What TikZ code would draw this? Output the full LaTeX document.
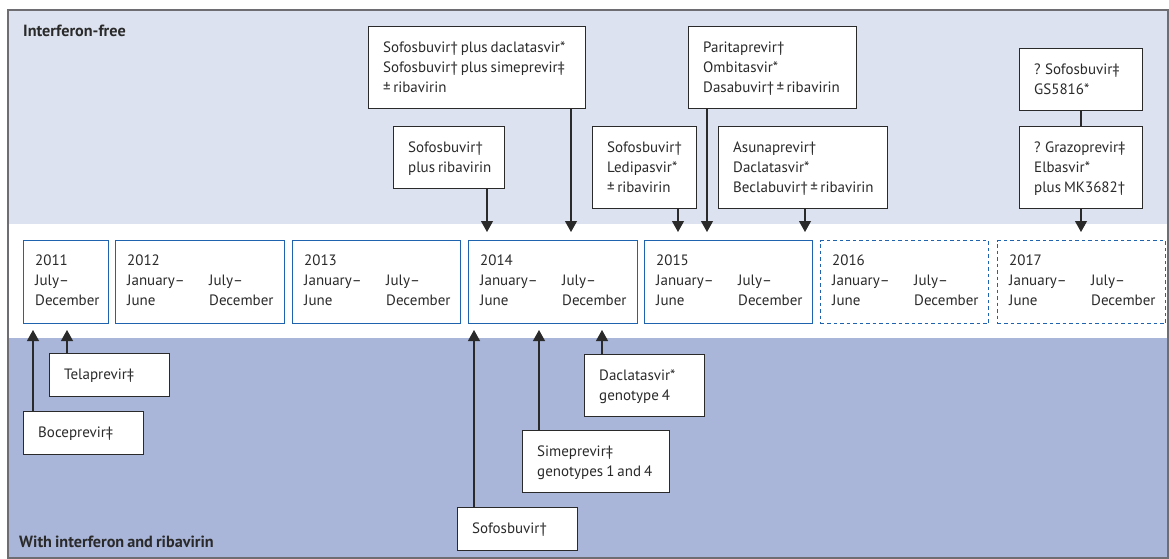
\documentclass[tikz,border=0pt]{standalone}
\usepackage{fontspec}
\setmainfont{PT Sans}[WordSpace=0.75]
\usetikzlibrary{arrows.meta}
\definecolor{lightpanel}{HTML}{DCE2EF}
\definecolor{darkpanel}{HTML}{A9B6D9}
\definecolor{yearblue}{HTML}{1F63AE}
\definecolor{framegray}{HTML}{6D6D72}
\definecolor{ink}{HTML}{2A2A2A}
\newcommand\lines[1]{\begin{tabular}[t]{@{}l@{}}#1\end{tabular}}
\newcommand\tb[6]{%
  \node[tbox, minimum width=#4pt, minimum height=#5pt] (#1) at (#2,#3) {};
  \node[txt] at ([xshift=15pt,yshift=-26.5pt]#1.north west) {\lines{#6}};}
\newcommand\yb[5]{%
  \node[#4, minimum width=#3pt] (#1) at (#2,240) {};
  \node[txt] at ([xshift=12pt,yshift=-25pt]#1.north west) {\lines{#5}};}
\newcommand\hy[2]{\makebox[82pt][l]{#1}#2}
\begin{document}
\begin{tikzpicture}[x=1pt,y=-1pt,
  tbox/.style={draw=ink, line width=1pt, fill=white, anchor=north west, inner sep=0pt},
  ybox/.style={draw=yearblue, line width=1.1pt, fill=white, anchor=north west, inner sep=0pt, minimum height=83pt},
  ydash/.style={ybox, dash pattern=on 3.5pt off 3pt},
  txt/.style={anchor=base west, inner sep=0pt, text=ink, font=\fontsize{15}{20}\selectfont},
  lbl/.style={anchor=base west, inner sep=0pt, text=ink, font=\bfseries\fontsize{16.2}{18}\selectfont},
  conn/.style={draw=ink, line width=1.1pt},
  arr/.style={conn, -{Triangle[width=12pt,length=11pt]}}
]
\useasboundingbox (0,0) rectangle (1169,559);
\fill[lightpanel] (8,10) rectangle (1168,224);
\fill[white] (8,224) rectangle (1168,338);
\fill[darkpanel] (8,338) rectangle (1168,558);
\draw[framegray, line width=1.5pt] (8,10) rectangle (1168,558);

\node[lbl] (freelbl) at (23,37) {Interferon-free};
\node[lbl] (withlbl) at (19,547) {With interferon and ribavirin};

% year boxes
\yb{y11}{23}{85}{ybox}{2011\\July–\\December}
\yb{y12}{115}{169}{ybox}{2012\\\hy{January–}{July–}\\\hy{June}{December}}
\yb{y13}{292}{168}{ybox}{2013\\\hy{January–}{July–}\\\hy{June}{December}}
\yb{y14}{468}{169}{ybox}{2014\\\hy{January–}{July–}\\\hy{June}{December}}
\yb{y15}{644}{168}{ybox}{2015\\\hy{January–}{July–}\\\hy{June}{December}}
\yb{y16}{820}{168}{ydash}{2016\\\hy{January–}{July–}\\\hy{June}{December}}
\yb{y17}{997}{168}{ydash}{2017\\\hy{January–}{July–}\\\hy{June}{December}}

% interferon-free boxes
\tb{A}{368}{26}{217}{82}{Sofosbuvir† plus daclatasvir*\\Sofosbuvir† plus simeprevir‡\\±\,ribavirin}
\tb{B}{393}{126}{111}{62}{Sofosbuvir†\\plus ribavirin}
\tb{C}{592}{126}{104}{82}{Sofosbuvir†\\Ledipasvir*\\±\,ribavirin}
\tb{D}{688}{26}{168}{82}{Paritaprevir†\\Ombitasvir*\\Dasabuvir†\,±\,ribavirin}
\tb{E}{718}{126}{169}{82}{Asunaprevir†\\Daclatasvir*\\Beclabuvir†\,±\,ribavirin}
\tb{F}{1019}{48}{123}{62}{? Sofosbuvir‡\\GS5816*}
\tb{G}{1019}{126}{123}{82}{? Grazoprevir‡\\Elbasvir*\\plus MK3682†}

% with interferon boxes
\tb{tel}{49}{353}{120}{43}{Telaprevir‡}
\tb{boc}{23}{411}{120}{43}{Boceprevir‡}
\tb{dac}{584}{354}{120}{62}{Daclatasvir*\\genotype 4}
\tb{sim}{522}{430}{147}{62}{Simeprevir‡\\genotypes 1 and 4}
\tb{sof}{457}{507}{120}{43}{Sofosbuvir†}

% arrow tips
\coordinate (tB) at (487,232);
\coordinate (tA) at (571,232);
\coordinate (tC) at (678,232);
\coordinate (tD) at (707,232);
\coordinate (tE) at (805,232);
\coordinate (tG) at (1081,232);
\coordinate (uBoc) at (33,330);
\coordinate (uTel) at (67,330);
\coordinate (uSof) at (474,330);
\coordinate (uSim) at (539,330);
\coordinate (uDac) at (602,330);

\draw[arr] (B.south -| tB) -- (tB);
\draw[arr] (A.south -| tA) -- (tA);
\draw[arr] (C.south -| tC) -- (tC);
\draw[arr] (D.south -| tD) -- (tD);
\draw[arr] (E.south -| tE) -- (tE);
\draw[conn] (F.south -| tG) -- (G.north -| tG);
\draw[arr] (G.south -| tG) -- (tG);

\draw[arr] (boc.north -| uBoc) -- (uBoc);
\draw[arr] (tel.north -| uTel) -- (uTel);
\draw[arr] (sof.north -| uSof) -- (uSof);
\draw[arr] (sim.north -| uSim) -- (uSim);
\draw[arr] (dac.north -| uDac) -- (uDac);
\end{tikzpicture}
\end{document}
